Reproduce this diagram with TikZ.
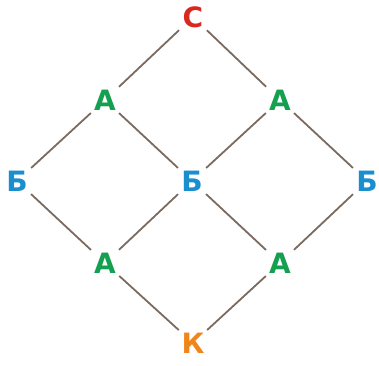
\documentclass[tikz,border=0pt]{standalone}
\usepackage{fontspec}
\setmainfont{DejaVu Sans}
\definecolor{cred}{HTML}{D9281F}
\definecolor{cgreen}{HTML}{14A050}
\definecolor{cblue}{HTML}{1A8ECF}
\definecolor{corange}{HTML}{F0861A}
\definecolor{cline}{HTML}{7A6A60}
\begin{document}
\begin{tikzpicture}[x=1pt,y=-1pt,
  lbl/.style={circle,inner sep=0pt,minimum size=38pt,font=\fontsize{28}{28}\selectfont\bfseries},
  edge/.style={draw=cline,line width=1.8pt}]
\useasboundingbox (0,0) rectangle (379,365);
\node[lbl,text=cred] (c) at (193,17) {С};
\node[lbl,text=cgreen] (a1) at (105,100) {А};
\node[lbl,text=cgreen] (a2) at (280,100) {А};
\node[lbl,text=cblue] (b1) at (17,181) {Б};
\node[lbl,text=cblue] (b2) at (192,181) {Б};
\node[lbl,text=cblue] (b3) at (367,181) {Б};
\node[lbl,text=cgreen] (a3) at (105,263) {А};
\node[lbl,text=cgreen] (a4) at (280,263) {А};
\node[lbl,text=corange] (k) at (193,343) {К};
\draw[edge] (c) -- (a1);
\draw[edge] (c) -- (a2);
\draw[edge] (a1) -- (b1);
\draw[edge] (a1) -- (b2);
\draw[edge] (a2) -- (b2);
\draw[edge] (a2) -- (b3);
\draw[edge] (b1) -- (a3);
\draw[edge] (b2) -- (a3);
\draw[edge] (b2) -- (a4);
\draw[edge] (b3) -- (a4);
\draw[edge] (a3) -- (k);
\draw[edge] (a4) -- (k);
\end{tikzpicture}
\end{document}
